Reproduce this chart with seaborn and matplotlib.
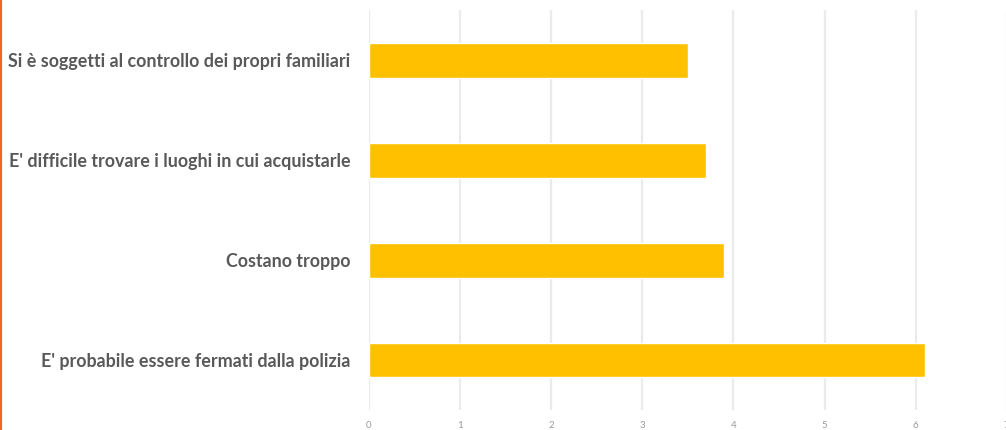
import matplotlib
matplotlib.use("Agg")
import matplotlib.pyplot as plt
import seaborn as sns
import pandas as pd
from matplotlib.lines import Line2D

categories = [
    "Si è soggetti al controllo dei propri familiari",
    "E' difficile trovare i luoghi in cui acquistarle",
    "Costano troppo",
    "E' probabile essere fermati dalla polizia",
]
values = [3.5, 3.7, 3.9, 6.1]
x_ticks = [0, 1, 2, 3, 4, 5, 6, 7]

df = pd.DataFrame({"motivo": categories, "valore": values})

sns.set_theme(style="white")
plt.rcParams["font.family"] = ["Lato", "DejaVu Sans"]

W, H = 1006, 430
fig = plt.figure(figsize=(W / 100, H / 100), dpi=100)
fig.patch.set_facecolor("white")

unit = 91.1
left_px, top_px, bottom_px = 369, 10, 410
ax = fig.add_axes([left_px / W, (H - bottom_px) / H, 7 * unit / W, (bottom_px - top_px) / H])

sns.barplot(data=df, x="valore", y="motivo", order=categories, color="#FFC000",
            saturation=1, width=0.35, orient="h", ax=ax)

ax.set_xlim(0, 7)
ax.set_ylim(3.5, -0.5)
ax.set_xticks(x_ticks)
ax.set_xticklabels([str(t) for t in x_ticks], fontsize=7, color="#999999")
ax.set_xlabel("")
ax.set_ylabel("")
ax.grid(axis="x", color="#EBEBEB", linewidth=1.6)
ax.set_axisbelow(True)
ax.tick_params(axis="x", length=0, pad=8)
ax.tick_params(axis="y", length=0, pad=13.5)
for lbl in ax.get_yticklabels():
    lbl.set_fontsize(12.9)
    lbl.set_fontweight("bold")
    lbl.set_color("#595959")
for s in ax.spines.values():
    s.set_visible(False)

# thin accent stripe along the left edge
fig.add_artist(Line2D([1 / W, 1 / W], [0, 1], transform=fig.transFigure,
                      color="#ED6B1E", linewidth=1.6))

fig.savefig("out.png", dpi=100, facecolor="white")
